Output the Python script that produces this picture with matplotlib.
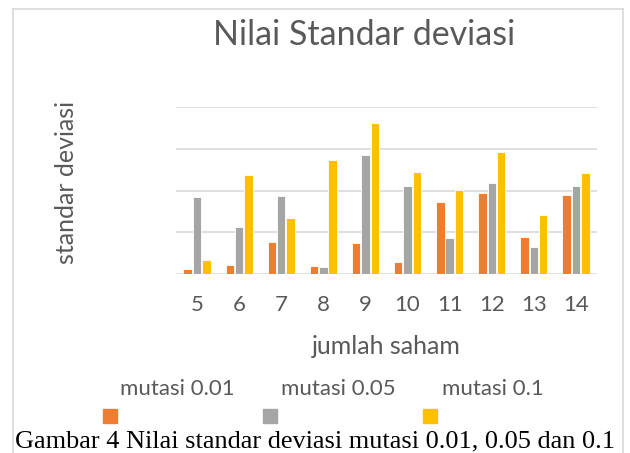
import matplotlib
matplotlib.use("Agg")
import matplotlib.pyplot as plt
from matplotlib.patches import Rectangle
from matplotlib.lines import Line2D
import numpy as np

# data (grid step = 1 unit)
jumlah_saham = ['5', '6', '7', '8', '9', '10', '11', '12', '13', '14']
mutasi_001 = [0.12, 0.22, 0.78, 0.21, 0.75, 0.29, 1.73, 1.93, 0.88, 1.89]
mutasi_005 = [1.84, 1.12, 1.87, 0.18, 2.85, 2.11, 0.87, 2.18, 0.66, 2.10]
mutasi_01 = [0.34, 2.36, 1.34, 2.72, 3.61, 2.44, 2.02, 2.91, 1.42, 2.42]
nama_seri = ['mutasi 0.01', 'mutasi 0.05', 'mutasi 0.1']
warna = ['#ED7D31', '#A5A5A5', '#FFC000']

W, H = 630, 453
teks = '#595959'
garis = '#D9D9D9'

fig = plt.figure(figsize=(W / 100, H / 100), dpi=100)

def fx(px):
    return px / W

def fy(py):
    return 1 - py / H

ax = fig.add_axes([fx(176), fy(274.3), fx(597 - 176), (274.3 - 106.7) / H])

x = np.arange(len(jumlah_saham))
lebar = 0.2
geser = 0.222
for i, seri in enumerate([mutasi_001, mutasi_005, mutasi_01]):
    ax.bar(x + (i - 1) * geser, seri, lebar, color=warna[i],
           edgecolor='white', linewidth=0.6, zorder=3)

ax.set_xlim(-0.5, len(jumlah_saham) - 0.5)
ax.set_ylim(0, 4)
ax.set_yticks([0, 1, 2, 3, 4])
ax.set_yticklabels([])
ax.yaxis.grid(True, color=garis, linewidth=1.2, zorder=0)
ax.tick_params(axis='y', length=0)
ax.set_xticks(x)
ax.set_xticklabels(jumlah_saham, fontsize=16, color=teks, family='Lato')
ax.tick_params(axis='x', length=0, pad=15)
for s in ax.spines.values():
    s.set_visible(False)

# judul dan label sumbu
fig.text(fx(364), fy(45), 'Nilai Standar deviasi', fontsize=24.5, color=teks,
         family='Lato', ha='center', va='baseline')
fig.text(fx(386), fy(354), 'jumlah saham', fontsize=18, color=teks,
         family='Lato', ha='center', va='baseline')
fig.text(fx(66), fy(182), 'standar deviasi', fontsize=18, color=teks,
         family='Lato', ha='center', va='center', rotation=90)

# legenda: teks di atas, kotak warna di bawah
pos_teks = [177.5, 338.5, 492.5]
pos_kotak = [103, 263, 423]
for i in range(3):
    fig.text(fx(pos_teks[i]), fy(395), nama_seri[i], fontsize=16, color=teks,
             family='Lato', ha='center', va='baseline')
    fig.add_artist(Rectangle((fx(pos_kotak[i]), fy(423)), fx(14), 14 / H,
                             transform=fig.transFigure, color=warna[i]))

# bingkai grafik
fig.add_artist(Line2D([fx(12.5), fx(12.5)], [fy(9), 0], color=garis, lw=1.2))
fig.add_artist(Line2D([fx(623), fx(623)], [fy(9), 0], color=garis, lw=1.2))
fig.add_artist(Line2D([fx(12.5), fx(623)], [fy(9), fy(9)], color=garis, lw=1.2))

fig.text(fx(15), fy(447), 'Gambar 4 Nilai standar deviasi mutasi 0.01, 0.05 dan 0.1',
         fontsize=18.9, color='black', family='Liberation Serif',
         ha='left', va='baseline')

fig.savefig('out.png', dpi=100)
